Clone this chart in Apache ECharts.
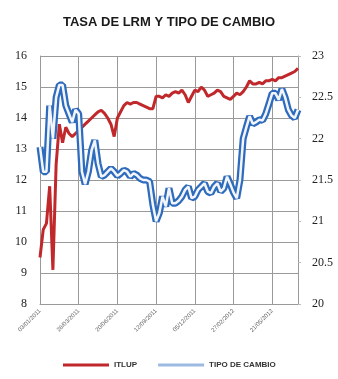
<!DOCTYPE html>
<html>
<head>
<meta charset="utf-8">
<script src="https://cdn.jsdelivr.net/npm/echarts@6/dist/echarts.min.js"></script>
<style>
  html, body { margin: 0; padding: 0; background: #fff; }
  #chart { width: 338px; height: 379px; }
</style>
</head>
<body>
<div id="chart"></div>
<script>
// tick labels on the date axis (one every 12 observations)
const tickLabels = ['03/01/2011', '28/03/2011', '20/06/2011', '12/09/2011', '05/12/2011', '27/02/2012', '21/05/2012'];
const tickStep = 12;

// ITLUP (left axis)
const itlup = [
  9.5, 10.4, 10.6, 11.8, 9.1, 12.5, 13.8, 13.2, 13.7, 13.5,
  13.4, 13.5, 13.6, 13.7, 13.8, 13.9, 14.0, 14.1, 14.2, 14.25,
  14.15, 14.0, 13.8, 13.4, 14.0, 14.2, 14.4, 14.5, 14.45, 14.5,
  14.5, 14.45, 14.4, 14.35, 14.3, 14.3, 14.7, 14.7, 14.65, 14.75,
  14.7, 14.8, 14.85, 14.8, 14.9, 14.75, 14.5, 14.7, 14.9, 14.85,
  15.0, 14.9, 14.7, 14.75, 14.8, 14.9, 14.85, 14.7, 14.65, 14.6,
  14.7, 14.8, 14.75, 14.85, 15.0, 15.2, 15.1, 15.1, 15.15, 15.1,
  15.2, 15.2, 15.25, 15.2, 15.3, 15.3, 15.35, 15.4, 15.45, 15.5,
  15.6
];

// Tipo de cambio (right axis)
const tipoCambio = [
  21.9, 21.6, 21.6, 22.4, 22.0, 22.5, 22.65, 22.65, 22.4, 22.3,
  22.2, 22.35, 22.3, 21.6, 21.45, 21.6, 21.86, 21.98, 21.7, 21.54,
  21.56, 21.6, 21.64, 21.6, 21.55, 21.58, 21.62, 21.6, 21.54, 21.58,
  21.56, 21.52, 21.5, 21.5, 21.48, 21.2, 21.0, 21.1, 21.3, 21.18,
  21.4, 21.22, 21.22, 21.25, 21.3, 21.38, 21.42, 21.28, 21.3, 21.38,
  21.42, 21.46, 21.36, 21.34, 21.42, 21.46, 21.36, 21.4, 21.54, 21.45,
  21.35, 21.28, 21.5, 22.0, 22.14, 22.27, 22.18, 22.2, 22.23, 22.22,
  22.3, 22.42, 22.55, 22.55, 22.47, 22.6, 22.5, 22.35, 22.28, 22.25,
  22.35
];

const chart = echarts.init(document.getElementById('chart'));

const gridColor = '#9a9a9a';
const labelFont = 'Liberation Serif';

const option = {
  backgroundColor: '#fff',
  animation: false,
  title: {
    text: 'TASA DE LRM Y TIPO DE CAMBIO',
    left: 'center',
    top: 11,
    textStyle: {
      fontFamily: 'Liberation Sans',
      fontSize: 13,
      fontWeight: 'bold',
      color: '#1a1a1a'
    }
  },
  legend: {
    data: ['ITLUP', 'TIPO DE CAMBIO'],
    left: 58,
    bottom: 5,
    icon: 'rect',
    itemWidth: 46,
    itemHeight: 3,
    itemGap: 21,
    textStyle: {
      fontFamily: 'Liberation Sans',
      fontSize: 8,
      fontWeight: 'bold',
      color: '#333'
    }
  },
  grid: {
    left: 40,
    right: 40,
    top: 56,
    bottom: 75
  },
  xAxis: {
    type: 'value',
    min: 0,
    max: itlup.length - 1,
    interval: tickStep,
    axisLine: { show: true, lineStyle: { color: gridColor } },
    axisTick: { show: false },
    splitLine: { show: true, lineStyle: { color: gridColor } },
    axisLabel: {
      rotate: 45,
      fontSize: 6,
      color: '#666',
      margin: 6,
      showMaxLabel: false,
      formatter: function (v) {
        const k = v / tickStep;
        return tickLabels[k] || '';
      }
    }
  },
  yAxis: [
    {
      type: 'value',
      min: 8,
      max: 16,
      interval: 1,
      axisLine: { show: true, lineStyle: { color: gridColor } },
      axisTick: { show: false },
      splitLine: { show: true, lineStyle: { color: gridColor } },
      axisLabel: { fontFamily: labelFont, fontSize: 12, color: '#222', margin: 13 }
    },
    {
      type: 'value',
      min: 20,
      max: 23,
      interval: 0.5,
      position: 'right',
      axisLine: { show: true, lineStyle: { color: gridColor } },
      axisTick: { show: true, length: 3, lineStyle: { color: '#bbb' } },
      splitLine: { show: false },
      axisLabel: { fontFamily: labelFont, fontSize: 12, color: '#222', margin: 14 }
    }
  ],
  series: [
    {
      name: 'ITLUP',
      type: 'line',
      yAxisIndex: 0,
      showSymbol: false,
      data: itlup.map((v, i) => [i, v]),
      itemStyle: { color: '#c0282b' },
      lineStyle: { color: '#c0282b', width: 3 }
    },
    {
      name: 'TIPO DE CAMBIO',
      type: 'line',
      yAxisIndex: 1,
      showSymbol: false,
      data: tipoCambio.map((v, i) => [i, v]),
      itemStyle: { color: '#9cb9e2' },
      lineStyle: { color: '#2f6bbd', width: 7 }
    },
    {
      name: 'tc-inner',
      type: 'line',
      yAxisIndex: 1,
      showSymbol: false,
      silent: true,
      data: tipoCambio.map((v, i) => [i, v]),
      lineStyle: { color: '#f2f6fc', width: 2.5 }
    }
  ]
};

option && chart.setOption(option);
</script>
</body>
</html>
